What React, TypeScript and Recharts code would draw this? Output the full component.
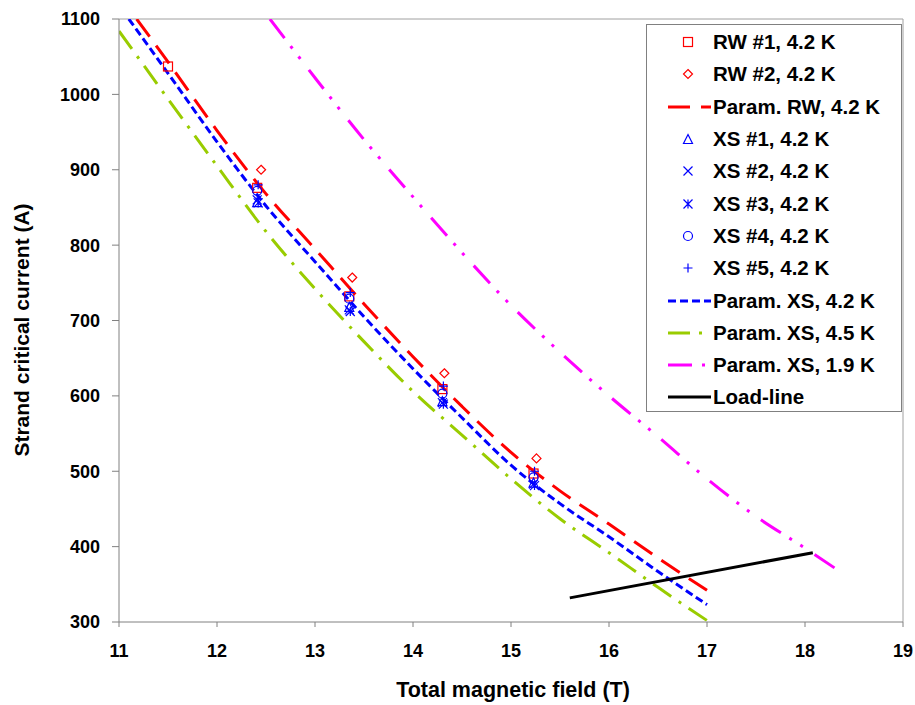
import React from "react";
import {
  ComposedChart,
  Line,
  Scatter,
  XAxis,
  YAxis,
  ReferenceLine,
  Label,
} from "recharts";

// field (T) and strand critical current (A)
const rwParamB = [11.18, 11.5, 12, 12.5, 13, 13.5, 14, 14.5, 15, 15.5, 16, 16.5, 17];
const rwParamI = [1100, 1043, 952, 868, 795, 722, 652, 586, 525, 474, 430, 385, 342];

const xs42B = [11.1, 11.5, 12, 12.5, 13, 13.5, 14, 14.5, 15, 15.5, 16, 16.5, 17];
const xs42I = [1100, 1028, 937, 852, 778, 705, 636, 571, 508, 457, 413, 367, 323];

const xs45B = [11, 11.5, 12, 12.5, 13, 13.5, 14, 14.5, 15, 15.5, 16, 16.5, 17];
const xs45I = [1084, 994, 905, 818, 742, 672, 606, 548, 490, 437, 392, 346, 302];

const xs19B = [12.54, 13, 13.5, 14, 14.5, 15, 15.5, 16, 16.5, 17, 17.5, 18, 18.31];
const xs19I = [1100, 1022, 940, 864, 790, 720, 658, 600, 546, 490, 440, 398, 371];

const loadB = [15.6, 18.08];
const loadI = [332, 392];

const rw1B = [11.5, 12.41, 13.35, 14.3, 15.23];
const rw1I = [1037, 876, 732, 609, 497];
const rw2B = [12.45, 13.38, 14.32, 15.26];
const rw2I = [900, 757, 630, 517];
const xs1B = [12.41, 13.35, 14.3, 15.23];
const xs1I = [857, 718, 593, 485];
const xs2B = [12.41, 13.35, 14.3, 15.23];
const xs2I = [860, 714, 591, 483];
const xs3B = [12.42, 13.36, 14.31, 15.24];
const xs3I = [856, 712, 589, 481];
const xs4B = [12.41, 13.35, 14.3, 15.23];
const xs4I = [872, 729, 603, 492];
const xs5B = [12.42, 13.36, 14.31, 15.24];
const xs5I = [880, 737, 613, 500];

const xTicks = [11, 12, 13, 14, 15, 16, 17, 18, 19];
const yTicks = [300, 400, 500, 600, 700, 800, 900, 1000, 1100];

const toRows = (b: number[], i: number[]) => b.map((x, k) => ({ x, y: i[k] }));

const RED = "#FF0000";
const BLUE = "#0000FF";
const FONT = "'Liberation Sans', Arial, sans-serif";

type Mk = "square" | "diamond" | "triangle" | "cross" | "star" | "circle" | "plus";

const marker = (kind: Mk, cx: number, cy: number, color: string) => {
  const s = 4.5;
  const p = { fill: "none", stroke: color, strokeWidth: 1.2 };
  switch (kind) {
    case "square":
      return <rect x={cx - s} y={cy - s} width={2 * s} height={2 * s} {...p} />;
    case "diamond":
      return <path d={`M${cx},${cy - s} L${cx + s},${cy} L${cx},${cy + s} L${cx - s},${cy} Z`} {...p} />;
    case "triangle":
      return <path d={`M${cx},${cy - s} L${cx + s},${cy + s} L${cx - s},${cy + s} Z`} {...p} />;
    case "cross":
      return <path d={`M${cx - s},${cy - s} L${cx + s},${cy + s} M${cx + s},${cy - s} L${cx - s},${cy + s}`} {...p} />;
    case "star":
      return (
        <path
          d={`M${cx},${cy - s} L${cx},${cy + s} M${cx - s},${cy - s} L${cx + s},${cy + s} M${cx + s},${cy - s} L${cx - s},${cy + s}`}
          {...p}
        />
      );
    case "circle":
      return <circle cx={cx} cy={cy} r={s} {...p} />;
    case "plus":
      return <path d={`M${cx},${cy - s} L${cx},${cy + s} M${cx - s},${cy} L${cx + s},${cy}`} {...p} />;
  }
};

const shapeOf = (kind: Mk, color: string) => (props: any) => marker(kind, props.cx, props.cy, color);

type LegendItem =
  | { label: string; mk: Mk; color: string }
  | { label: string; dash: string; color: string };

const legendItems: LegendItem[] = [
  { label: "RW #1, 4.2 K", mk: "square", color: RED },
  { label: "RW #2, 4.2 K", mk: "diamond", color: RED },
  { label: "Param. RW, 4.2 K", dash: "22 11", color: RED },
  { label: "XS #1, 4.2 K", mk: "triangle", color: BLUE },
  { label: "XS #2, 4.2 K", mk: "cross", color: BLUE },
  { label: "XS #3, 4.2 K", mk: "star", color: BLUE },
  { label: "XS #4, 4.2 K", mk: "circle", color: BLUE },
  { label: "XS #5, 4.2 K", mk: "plus", color: BLUE },
  { label: "Param. XS, 4.2 K", dash: "8 4", color: BLUE },
  { label: "Param. XS, 4.5 K", dash: "22 9 3 9", color: "#99CC00" },
  { label: "Param. XS, 1.9 K", dash: "24 10 3 10", color: "#FF00FF" },
  { label: "Load-line", dash: "", color: "#000000" },
];

const ChartLegend = () => (
  <div
    style={{
      position: "absolute",
      left: 646,
      top: 24,
      width: 256,
      height: 388,
      border: "1px solid #808080",
      background: "#fff",
      boxSizing: "border-box",
      paddingTop: 1,
      fontFamily: FONT,
      fontWeight: "bold",
      fontSize: 20.5,
    }}
  >
    {legendItems.map((it) => (
      <div key={it.label} style={{ height: 32.3, display: "flex", alignItems: "center" }}>
        <svg width={66} height={20} style={{ flex: "none" }}>
          {"mk" in it ? (
            marker(it.mk, 41, 10, it.color)
          ) : (
            <line x1={21} y1={10} x2={64} y2={10} stroke={it.color} strokeWidth={3} strokeDasharray={it.dash || undefined} />
          )}
        </svg>
        <span style={{ whiteSpace: "nowrap" }}>{it.label}</span>
      </div>
    ))}
  </div>
);

const tickStyle = { fontFamily: FONT, fontWeight: "bold", fontSize: 18, fill: "#000" };

export default function App() {
  return (
    <div style={{ position: "absolute", left: 0, top: 0, width: 915, height: 705, background: "#fff" }}>
      <ComposedChart width={915} height={705} margin={{ top: 19, right: 12, bottom: 0, left: 0 }}>
        <XAxis
          type="number"
          dataKey="x"
          domain={[11, 19]}
          ticks={xTicks}
          allowDataOverflow
          height={83}
          tick={tickStyle}
          tickSize={5}
          tickMargin={17}
          stroke="#808080"
        >
          <Label
            content={() => (
              <text x={513} y={697} textAnchor="middle" fontFamily={FONT} fontWeight="bold" fontSize={21.5} fill="#000">
                Total magnetic field (T)
              </text>
            )}
          />
        </XAxis>
        <YAxis
          type="number"
          dataKey="y"
          domain={[300, 1100]}
          ticks={yTicks}
          allowDataOverflow
          width={119}
          tick={tickStyle}
          tickSize={7}
          tickMargin={12}
          stroke="#808080"
        >
          <Label
            content={() => (
              <text
                x={29}
                y={330}
                transform="rotate(-90 29 330)"
                textAnchor="middle"
                fontFamily={FONT}
                fontWeight="bold"
                fontSize={21}
                fill="#000"
              >
                Strand critical current (A)
              </text>
            )}
          />
        </YAxis>
        <ReferenceLine y={1100} stroke="#A0A0A0" />
        <ReferenceLine x={19} stroke="#A0A0A0" />

        <Line data={toRows(xs45B, xs45I)} dataKey="y" type="monotone" stroke="#99CC00" strokeWidth={3} strokeDasharray="22 9 3 9" dot={false} activeDot={false} isAnimationActive={false} />
        <Line data={toRows(xs19B, xs19I)} dataKey="y" type="monotone" stroke="#FF00FF" strokeWidth={3} strokeDasharray="24 10 3 10 3 14" dot={false} activeDot={false} isAnimationActive={false} />
        <Line data={toRows(rwParamB, rwParamI)} dataKey="y" type="monotone" stroke={RED} strokeWidth={3} strokeDasharray="22 11" dot={false} activeDot={false} isAnimationActive={false} />
        <Line data={toRows(xs42B, xs42I)} dataKey="y" type="monotone" stroke={BLUE} strokeWidth={3} strokeDasharray="8 4" dot={false} activeDot={false} isAnimationActive={false} />
        <Line data={toRows(loadB, loadI)} dataKey="y" type="linear" stroke="#000" strokeWidth={3} dot={false} activeDot={false} isAnimationActive={false} />

        <Scatter data={toRows(rw1B, rw1I)} shape={shapeOf("square", RED)} isAnimationActive={false} />
        <Scatter data={toRows(rw2B, rw2I)} shape={shapeOf("diamond", RED)} isAnimationActive={false} />
        <Scatter data={toRows(xs1B, xs1I)} shape={shapeOf("triangle", BLUE)} isAnimationActive={false} />
        <Scatter data={toRows(xs2B, xs2I)} shape={shapeOf("cross", BLUE)} isAnimationActive={false} />
        <Scatter data={toRows(xs3B, xs3I)} shape={shapeOf("star", BLUE)} isAnimationActive={false} />
        <Scatter data={toRows(xs4B, xs4I)} shape={shapeOf("circle", BLUE)} isAnimationActive={false} />
        <Scatter data={toRows(xs5B, xs5I)} shape={shapeOf("plus", BLUE)} isAnimationActive={false} />
      </ComposedChart>
      <ChartLegend />
    </div>
  );
}
